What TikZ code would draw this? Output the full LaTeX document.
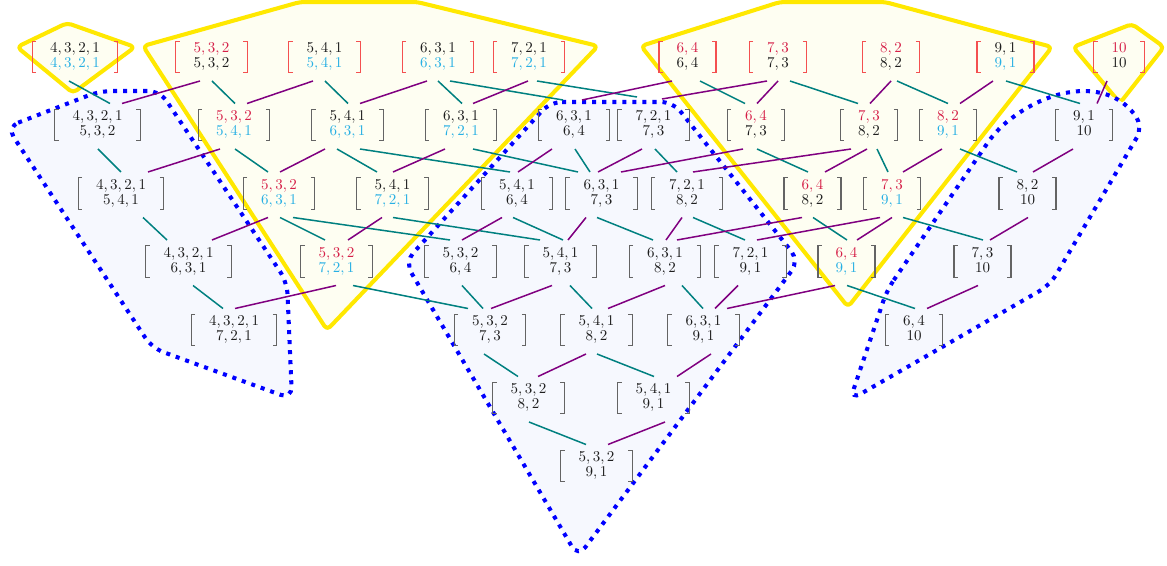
\documentclass[tikz,border=0pt]{standalone}
\usetikzlibrary{calc}
\definecolor{txtred}{RGB}{214,32,72}
\definecolor{txtcyan}{RGB}{40,176,228}
\definecolor{txtblk}{RGB}{30,30,30}
\definecolor{brkgray}{RGB}{100,100,100}
\definecolor{brkred}{RGB}{244,80,80}
\definecolor{lteal}{RGB}{0,128,128}
\definecolor{lpurp}{RGB}{128,0,128}
\definecolor{zyel}{RGB}{255,232,0}
\definecolor{zyelfill}{RGB}{254,254,242}
\definecolor{zblue}{RGB}{0,0,255}
\definecolor{zbluefill}{RGB}{246,248,254}
\tikzset{
 pair/.style={inner xsep=11.6pt, inner ysep=0pt, minimum height=20.7pt, align=center, font=\fontsize{10}{10}\selectfont, text=txtblk},
 brk/.style={draw=brkgray, line width=0.75pt},
 brkr/.style={draw=brkred, line width=0.75pt},
 tl/.style={draw=lteal, line width=1pt},
 pl/.style={draw=lpurp, line width=1pt},
 yzone/.style={draw=zyel, line width=2.7pt, fill=zyelfill, rounded corners=3pt, line join=round},
 bzone/.style={draw=zblue, line width=2.7pt, dash pattern=on 2.7pt off 4pt, fill=zbluefill, rounded corners=8pt},
}
\newcommand\txk[1]{$#1\vphantom{1,}$}
\newcommand\txr[1]{\textcolor{txtred}{$#1\vphantom{1,}$}}
\newcommand\txc[1]{\textcolor{txtcyan}{$#1\vphantom{1,}$}}
\newcommand\pn[6][brk]{%
  \node[pair] (#2) at (#3,#4) {#5\\#6};
  \draw[#1] ([xshift=2.5pt]#2.north west) -- (#2.north west) -- (#2.south west) -- ([xshift=2.5pt]#2.south west)
            ([xshift=-2.5pt]#2.north east) -- (#2.north east) -- (#2.south east) -- ([xshift=-2.5pt]#2.south east);
}
\newcommand\ek[5]{\draw[#1] ($(#2)+(#3,24)$) -- ($(#4)+(#5,-21.5)$);}
\newcommand\el[7]{\draw[#1] ($(#2)+(#3,#4)$) -- ($(#5)+(#6,#7)$);}
\begin{document}
\begin{tikzpicture}[x=0.6667pt,y=-0.6667pt]
\useasboundingbox (0,0) rectangle (1167,566);
% zones
\draw[yzone] (17,47) -- (67,23) -- (135,47) -- (73,93) -- cycle;
\draw[yzone] (143,46) -- (300,2) -- (417,2) -- (598,46) -- (327,330) -- cycle;
\draw[yzone] (641,46) -- (780,2) -- (885,2) -- (1052,47) -- (848,307) -- cycle;
\draw[yzone] (1073,47) -- (1132,24) -- (1164,47) -- (1120,103) -- cycle;
\draw[bzone] (7,127) -- (100,91) -- (160,91) -- (287,282) -- (292,399) -- (152,348) -- cycle;
\draw[bzone] (550,102) -- (673,102) -- (799,261) -- (578,557) -- (405,262) -- cycle;
\draw[bzone] (887,290) -- (995,132) .. controls (1050,85) and (1110,78) .. (1143,127) -- (1050,285) -- (850,400) -- cycle;
% row 0
\pn[brkr]{a00}{75}{57}{\txk{4,3,2,1}}{\txc{4,3,2,1}}
\pn[brkr]{a11}{211.5}{57}{\txr{5,3,2}}{\txk{5,3,2}}
\pn[brkr]{a22}{324.5}{57}{\txk{5,4,1}}{\txc{5,4,1}}
\pn[brkr]{a33}{438}{57}{\txk{6,3,1}}{\txc{6,3,1}}
\pn[brkr]{a44}{529}{57}{\txk{7,2,1}}{\txc{7,2,1}}
\pn[brkr]{a55}{687.5}{57}{\txr{6,4}}{\txk{6,4}}
\pn[brkr]{a66}{778}{57}{\txr{7,3}}{\txk{7,3}}
\pn[brkr]{a77}{891}{57}{\txr{8,2}}{\txk{8,2}}
\pn[brkr]{a88}{1005.5}{57}{\txk{9,1}}{\txc{9,1}}
\pn[brkr]{a99}{1119}{57}{\txr{10}}{\txk{10}}
% row 1
\pn{a01}{97.5}{125}{\txk{4,3,2,1}}{\txk{5,3,2}}
\pn{a12}{234}{125}{\txr{5,3,2}}{\txc{5,4,1}}
\pn{a23}{347.5}{125}{\txk{5,4,1}}{\txc{6,3,1}}
\pn{a34}{461}{125}{\txk{6,3,1}}{\txc{7,2,1}}
\pn{a35}{574}{125}{\txk{6,3,1}}{\txk{6,4}}
\pn{a46}{653.5}{125}{\txk{7,2,1}}{\txk{7,3}}
\pn{a56}{756}{125}{\txr{6,4}}{\txk{7,3}}
\pn{a67}{869}{125}{\txr{7,3}}{\txk{8,2}}
\pn{a78}{948}{125}{\txr{8,2}}{\txc{9,1}}
\pn{a89}{1084}{125}{\txk{9,1}}{\txk{10}}
% row 2
\pn{a02}{121}{193.5}{\txk{4,3,2,1}}{\txk{5,4,1}}
\pn{a13}{279}{193.5}{\txr{5,3,2}}{\txc{6,3,1}}
\pn{a24}{392.5}{193.5}{\txk{5,4,1}}{\txc{7,2,1}}
\pn{a25}{517}{193.5}{\txk{5,4,1}}{\txk{6,4}}
\pn{a36}{601.5}{193.5}{\txk{6,3,1}}{\txk{7,3}}
\pn{a47}{687}{193.5}{\txk{7,2,1}}{\txk{8,2}}
\pn{a57}{812.5}{193.5}{\txr{6,4}}{\txk{8,2}}
\pn{a68}{892}{193.5}{\txr{7,3}}{\txc{9,1}}
\pn{a79}{1027.5}{193.5}{\txk{8,2}}{\txk{10}}
% row 3
\pn{a03}{188.5}{261.5}{\txk{4,3,2,1}}{\txk{6,3,1}}
\pn{a14}{336.5}{261.5}{\txr{5,3,2}}{\txc{7,2,1}}
\pn{a15}{460.5}{261.5}{\txk{5,3,2}}{\txk{6,4}}
\pn{a26}{560.5}{261.5}{\txk{5,4,1}}{\txk{7,3}}
\pn{a37}{665}{261.5}{\txk{6,3,1}}{\txk{8,2}}
\pn{a48}{750.5}{261.5}{\txk{7,2,1}}{\txk{9,1}}
\pn{a58}{846.5}{261.5}{\txr{6,4}}{\txc{9,1}}
\pn{a69}{982.5}{261.5}{\txk{7,3}}{\txk{10}}
% row 4
\pn{a04}{234}{330}{\txk{4,3,2,1}}{\txk{7,2,1}}
\pn{a16}{490}{330}{\txk{5,3,2}}{\txk{7,3}}
\pn{a27}{596.5}{330}{\txk{5,4,1}}{\txk{8,2}}
\pn{a38}{703.5}{330}{\txk{6,3,1}}{\txk{9,1}}
\pn{a59}{914}{330}{\txk{6,4}}{\txk{10}}
% row 5
\pn{a17}{528.5}{398}{\txk{5,3,2}}{\txk{8,2}}
\pn{a28}{653.5}{398}{\txk{5,4,1}}{\txk{9,1}}
% row 6
\pn{a18}{596.5}{466}{\txk{5,3,2}}{\txk{9,1}}
% edges row 0 -> 1
\ek{tl}{a00}{-6}{a01}{12.5}
\ek{tl}{a11}{0.5}{a12}{1}
\ek{tl}{a22}{0.5}{a23}{0.5}
\ek{tl}{a33}{0}{a34}{1}
\el{tl}{a33}{12}{24}{a35}{-11}{-25}
\el{tl}{a44}{8}{24}{a46}{-16.5}{-28}
\ek{tl}{a55}{12.5}{a56}{-11}
\ek{tl}{a66}{12}{a67}{-11}
\ek{tl}{a77}{6}{a78}{0}
\ek{tl}{a88}{0.5}{a89}{-4}
\ek{pl}{a11}{-11.5}{a01}{24.5}
\ek{pl}{a22}{-11.5}{a12}{13}
\ek{pl}{a33}{-11}{a23}{12.5}
\ek{pl}{a44}{-1}{a34}{12}
\el{pl}{a55}{-15.5}{24}{a35}{8}{-25}
\el{pl}{a66}{-11}{24}{a46}{8.5}{-26}
\ek{pl}{a66}{0}{a56}{1}
\ek{pl}{a77}{0}{a67}{1}
\ek{pl}{a88}{-12.5}{a78}{12}
\ek{pl}{a99}{-12}{a89}{13}
% row 1 -> 2
\ek{tl}{a01}{0.5}{a02}{0}
\ek{tl}{a12}{1}{a13}{-11}
\ek{tl}{a23}{-10.5}{a24}{-15.5}
\ek{tl}{a23}{12.5}{a25}{-7}
\ek{tl}{a34}{12}{a36}{-23.5}
\ek{tl}{a35}{1}{a36}{-11.5}
\ek{tl}{a46}{1.5}{a47}{-10}
\ek{tl}{a56}{1}{a57}{-4.5}
\ek{tl}{a67}{8}{a68}{-4}
\ek{tl}{a78}{12}{a79}{-10.5}
\ek{pl}{a12}{-14}{a02}{27}
\ek{pl}{a23}{-22.5}{a13}{1}
\ek{pl}{a34}{-16}{a24}{0.5}
\ek{pl}{a35}{-22}{a25}{1}
\ek{pl}{a46}{-11.5}{a36}{-3.5}
\ek{pl}{a56}{-13}{a36}{19.5}
\ek{pl}{a67}{-18}{a47}{6}
\ek{pl}{a67}{-2}{a57}{12.5}
\ek{pl}{a78}{-6}{a68}{11}
\ek{pl}{a89}{-11}{a79}{5.5}
% row 2 -> 3
\ek{tl}{a02}{22}{a03}{-21.5}
\ek{tl}{a13}{1}{a14}{-11.5}
\ek{tl}{a13}{14}{a15}{-10.5}
\ek{tl}{a24}{0.5}{a26}{-20.5}
\ek{tl}{a25}{-4}{a26}{2.5}
\ek{tl}{a36}{-4.5}{a37}{-12}
\ek{tl}{a47}{6}{a48}{-5.5}
\ek{tl}{a57}{0.5}{a58}{0.5}
\ek{tl}{a68}{11}{a69}{0.5}
\ek{pl}{a13}{-11}{a03}{23.5}
\ek{pl}{a24}{-10.5}{a14}{11.5}
\ek{pl}{a25}{-15}{a15}{1.5}
\ek{pl}{a36}{-15.5}{a26}{7.5}
\ek{pl}{a47}{-5}{a37}{1}
\ek{pl}{a57}{-10.5}{a37}{12}
\ek{pl}{a68}{-12}{a48}{6.5}
\ek{pl}{a68}{0}{a58}{10.5}
\ek{pl}{a79}{0.5}{a69}{7.5}
% row 3 -> 4
\ek{tl}{a03}{4.5}{a04}{-11}
\ek{tl}{a14}{16.5}{a16}{-22}
\ek{tl}{a15}{1.5}{a16}{-7}
\ek{tl}{a26}{9.5}{a27}{-4.5}
\ek{tl}{a37}{17}{a38}{-0.5}
\ek{tl}{a58}{0.5}{a59}{1}
\ek{pl}{a14}{-0.5}{a04}{1}
\ek{pl}{a26}{-8.5}{a16}{1}
\ek{pl}{a37}{0}{a27}{11.5}
\ek{pl}{a48}{-12.5}{a38}{11.5}
\ek{pl}{a58}{-11.5}{a38}{23.5}
\ek{pl}{a69}{-4.5}{a59}{13}
% row 4 -> 5
\ek{tl}{a16}{-6}{a17}{-10.5}
\ek{tl}{a27}{0.5}{a28}{0.5}
\ek{pl}{a27}{-10.5}{a17}{9.5}
\ek{pl}{a38}{7.5}{a28}{23.5}
% row 5 -> 6
\ek{tl}{a17}{0.5}{a18}{-10.5}
\ek{pl}{a28}{11.5}{a18}{11.5}
\end{tikzpicture}
\end{document}
